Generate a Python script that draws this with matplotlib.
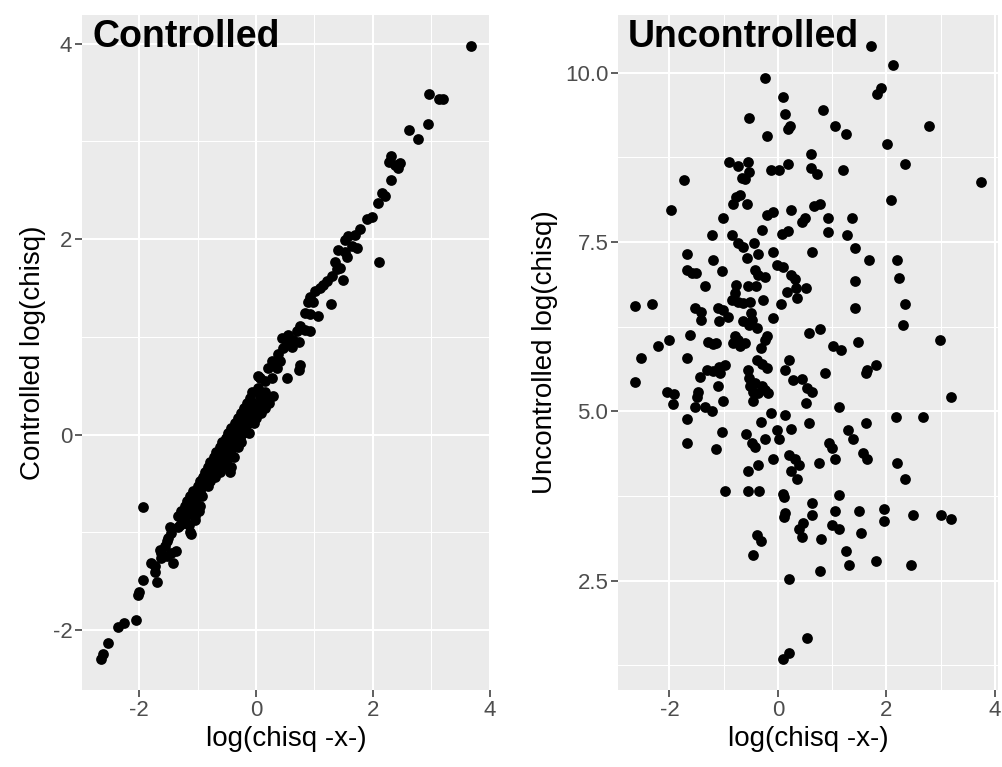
import matplotlib
matplotlib.use("Agg")
import matplotlib.pyplot as plt
from matplotlib.ticker import MultipleLocator, FormatStrFormatter

plt.rcParams['font.family'] = ['Liberation Sans', 'DejaVu Sans']
plt.rcParams['axes.unicode_minus'] = False

# Controlled panel: log(chisq -x-) vs controlled log(chisq)
ctrl_x = [-2.66, -2.62, -2.53, -2.36, -2.26, -2.05, -2.02, -2.00, -1.94, -1.70, -1.72, -1.73, -1.79, -1.42,
          -1.62, -1.53, -1.65, -1.56, -1.63, -1.36, -1.45, -1.50, -1.45, -1.53, -1.11, -1.33, -1.22, -1.25,
          -1.05, -1.94, -1.47, -1.13, -1.30, -1.15,
          -1.20, -1.05, -1.33, -1.15, -0.98, -1.28, -1.10, -1.22, -0.95, -1.05, -1.18, -1.00, -1.12, -0.92,
          -0.95, -1.07, -0.90, -1.00, -0.82, -0.85, -0.95, -0.78, -0.80, -0.90, -0.70, -0.75, -0.88, -0.62,
          -0.45, -0.70, -0.82, -0.58, -0.42, -0.65, -0.78, -0.52, -0.60, -0.72, -0.48, -0.38, -0.55, -0.68,
          -0.45, -0.50, -0.62, -0.38, -0.30, -0.45, -0.58, -0.33, -0.25, -0.40, -0.52, -0.28, -0.35, -0.47,
          -0.22, -0.12, -0.30, -0.42, -0.18, -0.25, -0.35, -0.12, -0.03, -0.20, -0.30, -0.08, 0.00, -0.15,
          -0.25, -0.03, 0.08, -0.10, -0.20, 0.03, 0.15, -0.05, -0.15, 0.08, 0.22, 0.04, 0.73,
          1.90, 1.98, 1.78, 1.70, 1.58, 1.53, 1.73, 1.64, 1.53, 1.41, 1.56, 2.10, 1.36, 1.44, 1.38, 1.49,
          1.30, 1.21, 1.15, 1.10, 1.01, 0.93, 0.90, 0.98, 1.29, 0.84, 0.93, 1.07, 0.75, 0.84, 0.93, 0.70,
          0.55, 0.44, 0.64, 0.53, 0.73, 0.47, 0.38, 0.61, 0.75, 0.27, 0.21, 0.36, 0.41, 0.07, 0.15, 0.27,
          0.53, -0.07, 0.04, 0.15, 0.30, -0.10, 0.07, 0.21,
          3.69, 2.97, 3.14, 3.20, 2.94, 2.62, 2.77, 2.32, 2.28, 2.38, 2.47, 2.44, 2.32, 2.16, 2.21, 2.09]
ctrl_y = [-2.30, -2.25, -2.13, -1.97, -1.93, -1.90, -1.64, -1.61, -1.49, -1.51, -1.41, -1.35, -1.31, -1.31,
          -1.26, -1.24, -1.18, -1.14, -1.21, -1.19, -1.21, -1.06, -1.01, -1.09, -1.02, -0.95, -0.90, -0.87,
          -0.87, -0.74, -0.95, -1.00, -0.93, -0.93,
          -0.83, -0.83, -0.83, -0.78, -0.78, -0.78, -0.73, -0.73, -0.73, -0.68, -0.68, -0.63, -0.63, -0.63,
          -0.58, -0.58, -0.53, -0.53, -0.53, -0.48, -0.48, -0.48, -0.43, -0.43, -0.43, -0.38, -0.38, -0.38,
          -0.38, -0.33, -0.33, -0.33, -0.33, -0.28, -0.28, -0.28, -0.23, -0.23, -0.23, -0.23, -0.18, -0.18,
          -0.18, -0.13, -0.13, -0.13, -0.13, -0.08, -0.08, -0.08, -0.08, -0.03, -0.03, -0.03, 0.02, 0.02,
          0.02, 0.02, 0.07, 0.07, 0.07, 0.12, 0.12, 0.12, 0.12, 0.17, 0.17, 0.17, 0.17, 0.22,
          0.22, 0.22, 0.22, 0.27, 0.27, 0.27, 0.27, 0.32, 0.32, 0.32, 0.32, 0.60, 0.66,
          2.21, 2.23, 2.10, 2.04, 2.03, 1.99, 1.91, 1.93, 1.87, 1.89, 1.82, 1.77, 1.77, 1.70, 1.69, 1.58,
          1.62, 1.57, 1.53, 1.50, 1.47, 1.41, 1.36, 1.36, 1.34, 1.24, 1.23, 1.21, 1.11, 1.07, 1.06, 1.06,
          1.02, 0.99, 0.97, 0.94, 0.95, 0.89, 0.82, 0.90, 0.71, 0.75, 0.68, 0.68, 0.75, 0.58, 0.55, 0.58,
          0.58, 0.44, 0.48, 0.44, 0.39, 0.37, 0.39, 0.37,
          3.98, 3.49, 3.43, 3.43, 3.18, 3.12, 3.02, 2.85, 2.79, 2.76, 2.78, 2.73, 2.61, 2.47, 2.44, 2.37]

# Uncontrolled panel: log(chisq -x-) vs uncontrolled log(chisq)
unc_x = [-0.23, 0.10, -0.53, 0.14, 0.22, 0.18, -0.20, -0.90, -0.73, -0.55, -0.53, -0.67, -0.60, -0.13,
         0.02, 0.18, -1.74, -1.97, -1.01, -0.77, -0.70, -0.82, -0.57, -0.21, -0.09, 0.25, 0.44, 0.50,
         -0.30, 0.07, 0.19, -1.22, -0.85,
         1.71, 2.13, 1.91, 1.83, 0.83, 1.06, 1.25, 2.79, 2.01, 0.61, 0.61, 0.72, 1.20, 2.34, 3.74, 2.09,
         0.66, 0.77, 0.92, 1.36, 0.92, 1.28,
         1.43, 0.62, 1.68, 2.20, 2.23, 1.43, 0.51, 2.34, 1.43, 2.31, 0.77, 0.58, 2.98, 1.02, 1.17, 1.47,
         1.80, 1.65, 1.63, 0.87, 0.44, 0.53, 0.63, 0.51, 1.13, 3.20, 2.17, 2.68, 0.58, 1.62, 1.29, 1.39,
         0.94,
         0.99, 1.06, 1.56, 1.65, 2.20, 2.35, 0.76, 1.13, 0.62, 0.62, 1.06, 1.50, 1.95, 1.95, 2.50, 3.01,
         3.20, 0.47, 0.44, 0.99, 1.13, 1.53, 0.79, 1.25, 1.32, 1.80, 2.46, 0.77, 0.54,
         -1.68, -1.15, -0.48, -0.42, -0.09, -0.37, -0.56, 0.21, 0.31, 0.39, 0.25, 0.36, -0.98, -0.56,
         -0.34, 0.10, 0.12, 0.13, 0.12, 0.39, -0.38, -0.31, -0.45, 0.21, 0.20, 0.10,
         -0.73, -0.64, -0.44, -0.37, -0.57, -0.09, -1.67, -1.19, -1.04, -1.67, -1.59, -1.51, -0.42, -0.36,
         -0.24, -0.01, 0.10, 0.25, 0.31, -1.34, -0.77, -0.56, -0.41, 0.17, 0.34, 0.36, -0.79, -0.85,
         -0.73, -0.64, -0.52, -0.27, 0.06, -2.63, -2.33, -1.53, -1.42, -1.42, -1.11, -1.01, -0.92, -1.09,
         -0.50, -0.64, -0.53, -0.39, -0.47, -0.09, -1.63, -2.00, -2.22, -2.52, -1.67, -1.28, -1.19, -1.15,
         -0.80, -0.82, -0.70, -0.61, -0.73, -0.21, -0.24, -0.31, -2.63, -1.44, -1.31, -1.19, -1.09, -0.98,
         -1.07, -1.11, -2.05, -1.91, -1.93, -1.47, -1.50, -1.53, -1.34, -1.21, -1.01, -0.56, -0.53, -0.52,
         -0.42, -0.45, -0.36, -0.30, -0.24, -0.19, -0.39, -0.30, -0.21, -0.45, 0.21, 0.13, 0.28, -1.67,
         -1.04, -0.59, -0.24, -0.02, 0.02, -0.31, -0.12, 0.13, 0.25]
unc_y = [9.93, 9.64, 9.33, 9.39, 9.22, 9.17, 9.07, 8.69, 8.62, 8.69, 8.54, 8.44, 8.43, 8.57,
         8.57, 8.66, 8.42, 7.98, 7.86, 8.17, 8.20, 8.06, 8.06, 7.90, 7.94, 7.98, 7.80, 7.85,
         7.68, 7.62, 7.66, 7.61, 7.61,
         10.40, 10.11, 9.78, 9.69, 9.45, 9.22, 9.10, 9.22, 8.95, 8.80, 8.60, 8.51, 8.57, 8.65, 8.39, 8.12,
         8.04, 8.06, 7.86, 7.86, 7.65, 7.60,
         7.41, 7.35, 7.23, 7.23, 6.97, 6.93, 6.82, 6.58, 6.52, 6.28, 6.22, 6.16, 6.05, 5.96, 5.90, 6.02,
         5.69, 5.61, 5.57, 5.57, 5.48, 5.34, 5.28, 5.13, 5.07, 5.22, 4.92, 4.92, 4.83, 4.83, 4.72, 4.59,
         4.54,
         4.46, 4.30, 4.39, 4.30, 4.24, 4.00, 4.24, 3.77, 3.65, 3.47, 3.53, 3.53, 3.56, 3.38, 3.47, 3.47,
         3.41, 3.35, 3.14, 3.32, 3.26, 3.20, 3.12, 2.94, 2.73, 2.79, 2.73, 2.64, 1.66,
         4.53, 4.45, 4.53, 4.48, 4.30, 4.21, 4.12, 4.36, 4.30, 4.21, 4.12, 4.00, 3.83, 3.83,
         3.83, 3.78, 3.73, 3.50, 3.44, 3.26, 3.18, 3.09, 2.88, 2.53, 1.43, 1.34,
         7.48, 7.43, 7.48, 7.33, 7.26, 7.35, 7.33, 7.24, 7.08, 7.09, 7.04, 7.05, 7.09, 7.02,
         6.99, 7.16, 7.13, 7.02, 6.95, 6.85, 6.87, 6.85, 6.85, 6.77, 6.82, 6.67, 6.75, 6.65,
         6.62, 6.60, 6.62, 6.65, 6.59, 6.55, 6.58, 6.52, 6.47, 6.35, 6.52, 6.50, 6.40, 6.33,
         6.45, 6.33, 6.28, 6.23, 6.35, 6.38, 6.13, 6.06, 5.96, 5.79, 5.79, 6.02, 6.00, 6.01,
         6.12, 6.01, 5.96, 6.01, 6.06, 6.12, 6.06, 5.93, 5.43, 5.51, 5.61, 5.59, 5.66, 5.69,
         5.56, 5.38, 5.28, 5.26, 5.11, 5.29, 5.22, 5.07, 5.07, 5.01, 5.16, 5.61, 5.49, 5.37,
         5.42, 5.29, 5.27, 5.37, 5.32, 5.27, 5.76, 5.70, 5.64, 5.16, 5.76, 5.61, 5.47, 4.89,
         4.69, 4.67, 4.60, 4.73, 4.60, 4.85, 4.98, 4.95, 4.74]

panel_titles = ["Controlled", "Uncontrolled"]
y_titles = ["Controlled log(chisq)", "Uncontrolled log(chisq)"]
x_title = "log(chisq -x-)"


def expanded(values):
    lo, hi = min(values), max(values)
    pad = 0.05 * (hi - lo)
    return lo - pad, hi + pad


def gg_panel(ax, xs, ys, title, ylabel, ymajor, yfmt):
    ax.set_facecolor("#EBEBEB")
    ax.scatter(xs, ys, s=60, color="black", linewidths=0, zorder=3)
    ax.set_xlim(*expanded(xs))
    ax.set_ylim(*expanded(ys))
    ax.xaxis.set_major_locator(MultipleLocator(2))
    ax.xaxis.set_minor_locator(MultipleLocator(1))
    ax.yaxis.set_major_locator(MultipleLocator(ymajor))
    ax.yaxis.set_minor_locator(MultipleLocator(ymajor / 2))
    ax.yaxis.set_major_formatter(FormatStrFormatter(yfmt))
    ax.grid(which="major", color="white", linewidth=1.5, zorder=0)
    ax.grid(which="minor", color="white", linewidth=0.75, zorder=0)
    ax.set_axisbelow(True)
    for side in ax.spines.values():
        side.set_visible(False)
    ax.tick_params(which="major", length=5, width=1.1, color="#333333",
                   labelsize=16, labelcolor="#4D4D4D", pad=2)
    ax.tick_params(which="minor", length=0)
    ax.set_xlabel(x_title, fontsize=20, color="black", labelpad=4)
    ax.set_ylabel(ylabel, fontsize=20, color="black", labelpad=5)
    ax.text(0.025, 0.953, title, transform=ax.transAxes, fontsize=27,
            fontweight="bold", color="black", va="baseline", ha="left", zorder=5)


fig = plt.figure(figsize=(10.02, 7.67), dpi=100)
ax1 = fig.add_axes([82 / 1002, 77 / 767, 408 / 1002, 675 / 767])
ax2 = fig.add_axes([618 / 1002, 77 / 767, 380 / 1002, 675 / 767])

gg_panel(ax1, ctrl_x, ctrl_y, panel_titles[0], y_titles[0], 2, "%g")
gg_panel(ax2, unc_x, unc_y, panel_titles[1], y_titles[1], 2.5, "%.1f")

fig.savefig("out.png", dpi=100)
